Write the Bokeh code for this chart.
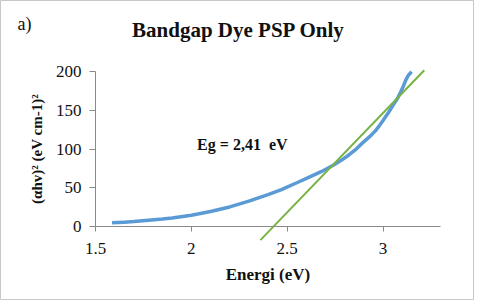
from bokeh.plotting import figure
from bokeh.models import Label, FixedTicker
from bokeh.embed import file_html
from bokeh.resources import INLINE

# Data
energy = [1.586, 1.65, 1.70, 1.776, 1.85, 1.90, 2.00, 2.10, 2.20, 2.30, 2.40,
          2.47, 2.556, 2.618, 2.68, 2.74, 2.78, 2.82, 2.86, 2.889, 2.93, 2.96,
          2.977, 3.00, 3.03, 3.05, 3.074, 3.092, 3.105, 3.118, 3.132, 3.149]
absorb = [4.4, 5.2, 6.0, 7.8, 9.3, 10.6, 14.3, 19.0, 25.0, 32.5, 41.0,
          47.5, 57.0, 64.0, 71.0, 79.0, 85.0, 92.0, 100.0, 107.0, 116.0, 123.5,
          129.0, 137.0, 148.0, 156.0, 165.0, 174.0, 181.0, 189.0, 195.6, 200.0]
fit_x = [2.36, 3.215]
fit_y = [-18.0, 202.0]
x_ticks = [1.5, 2.0, 2.5, 3.0]
x_tick_labels = ["1.5", "2", "2.5", "3"]
y_ticks = [0, 50, 100, 150, 200]
X_AXIS = (1.5, 3.3)
Y_AXIS = (0, 200)

FONT = "Liberation Serif"
AXIS_GRAY = "#898989"
TXT = "#111111"

# frame covers the whole canvas; axes are pinned at data locations
p = figure(width=474, height=300, x_range=(1.0044, 3.4770), y_range=(-96.2, 292.4),
           output_backend="svg", toolbar_location=None, min_border=0)
p.outline_line_color = "#C8C8C8"
p.grid.visible = False
p.background_fill_color = "white"
p.border_fill_color = "white"

# y axis
ya = p.yaxis[0]
ya.fixed_location = X_AXIS[0]
ya.bounds = Y_AXIS
ya.ticker = FixedTicker(ticks=y_ticks)
ya.axis_line_color = AXIS_GRAY
ya.major_tick_line_color = AXIS_GRAY
ya.major_tick_out = 6
ya.major_tick_in = 0
ya.minor_tick_line_color = None
ya.major_label_text_font = FONT
ya.major_label_text_font_size = "17px"
ya.major_label_text_color = TXT
ya.major_label_standoff = 8
ya.axis_label = "(\u03b1hv)\u00b2 (eV cm-1)\u00b2"
ya.axis_label_text_font = FONT
ya.axis_label_text_font_style = "bold"
ya.axis_label_text_font_size = "15px"
ya.axis_label_text_color = TXT
ya.axis_label_standoff = 8

# x axis
xa = p.xaxis[0]
xa.fixed_location = Y_AXIS[0]
xa.bounds = X_AXIS
xa.ticker = FixedTicker(ticks=x_ticks)
xa.major_label_overrides = {t: l for t, l in zip(x_ticks, x_tick_labels)}
xa.axis_line_color = AXIS_GRAY
xa.major_tick_line_color = AXIS_GRAY
xa.major_tick_out = 5
xa.major_tick_in = 0
xa.minor_tick_line_color = None
xa.major_label_standoff = 12
xa.major_label_text_font = FONT
xa.major_label_text_font_size = "17px"
xa.major_label_text_color = TXT
xa.axis_label = "Energi (eV)"
xa.axis_label_text_font = FONT
xa.axis_label_text_font_style = "bold"
xa.axis_label_text_font_size = "17px"
xa.axis_label_text_color = TXT
xa.axis_label_standoff = 7

# data
p.line(energy, absorb, line_color="#5B9BD5", line_width=3.5, line_join="round")
p.line(fit_x, fit_y, line_color="#77B244", line_width=2)

p.add_layout(Label(x=2.03, y=106, text="Eg = 2,41\u00a0 eV", text_font=FONT,
                   text_font_style="bold", text_font_size="16px",
                   text_baseline="middle", text_align="left", text_color=TXT))
p.add_layout(Label(x=2.246, y=254.8, text="Bandgap Dye PSP Only", text_font=FONT,
                   text_font_style="bold", text_font_size="21px",
                   text_baseline="middle", text_align="center", text_color=TXT))
p.add_layout(Label(x=1.093, y=262.6, text="a)", text_font=FONT,
                   text_font_size="18px", text_baseline="middle", text_align="left",
                   text_color=TXT))

open("out.html", "w").write(file_html(p, INLINE))
